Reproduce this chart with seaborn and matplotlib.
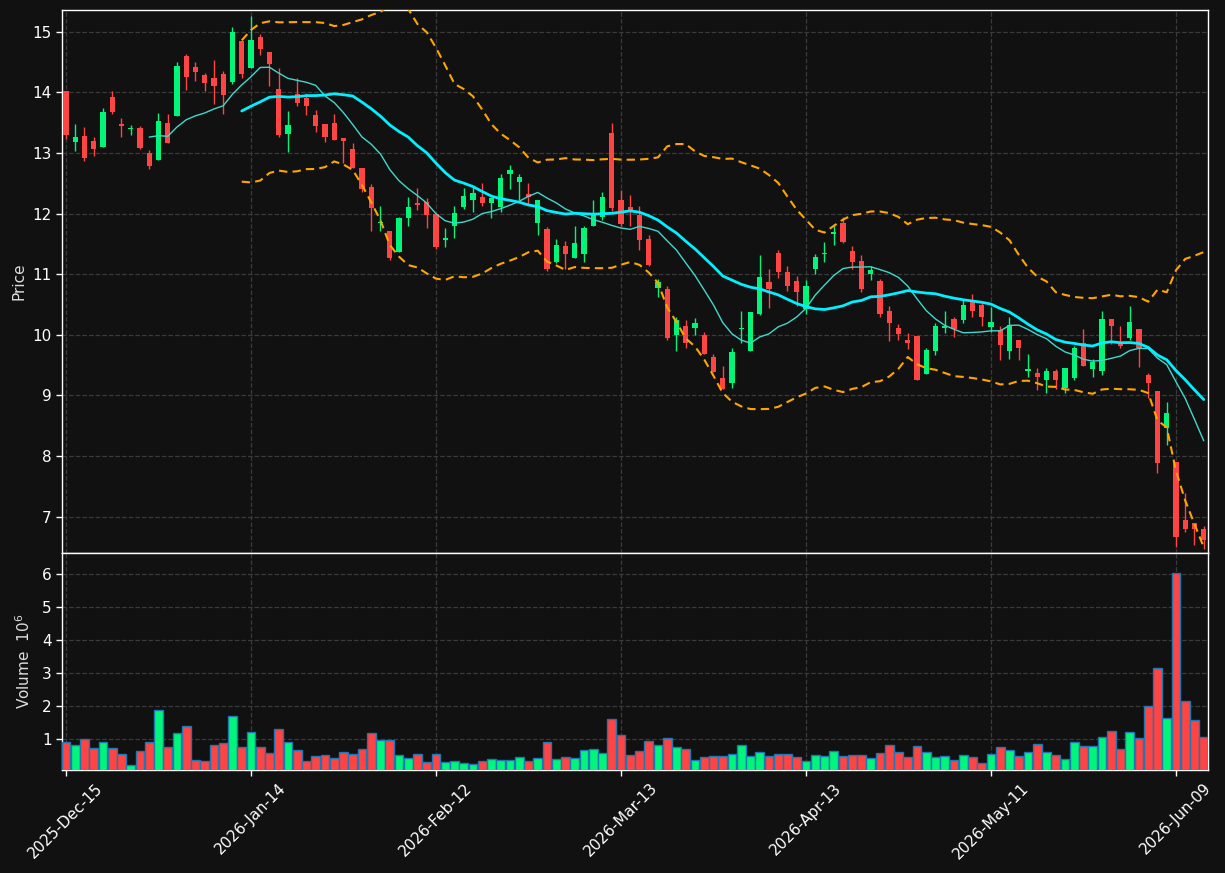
import numpy as np
import pandas as pd
import matplotlib
matplotlib.use("Agg")
import matplotlib.pyplot as plt
import seaborn as sns

# ---------------- data ----------------
opens = [14.02, 13.19, 13.28, 13.20, 13.10, 13.93, 13.48, 13.40, 13.42, 13.00,
         12.89, 13.50, 13.61, 14.60, 14.42, 14.29, 14.24, 14.31, 14.18, 14.85,
         14.41, 14.92, 14.67, 14.06, 13.31, 13.98, 13.91, 13.63, 13.48, 13.50,
         13.25, 13.07, 12.76, 12.44, 11.84, 11.72, 11.37, 11.92, 12.18, 12.19,
         12.00, 11.56, 11.79, 12.11, 12.22, 12.27, 12.18, 12.11, 12.65, 12.53,
         12.33, 11.84, 11.75, 11.20, 11.47, 11.26, 11.33, 11.79, 11.95, 13.33,
         12.23, 12.11, 11.98, 11.58, 10.78, 10.76, 10.00, 10.15, 10.12, 10.00,
         9.63, 9.28, 9.20, 10.09, 9.74, 10.35, 10.87, 11.35, 11.04, 10.89,
         10.43, 11.08, 11.33, 11.67, 11.85, 11.39, 11.22, 11.01, 10.89, 10.40,
         10.12, 9.91, 9.98, 9.35, 9.74, 10.12, 10.26, 10.24, 10.56, 10.50,
         10.13, 10.08, 9.74, 9.92, 9.41, 9.37, 9.25, 9.41, 9.13, 9.29,
         9.86, 9.43, 9.41, 10.26, 9.86, 9.95, 10.09, 9.34, 9.07, 8.47,
         7.90, 6.95, 6.89, 6.80]
highs = [14.02, 13.48, 13.43, 13.26, 13.74, 14.03, 13.58, 13.46, 13.44, 13.05,
         13.66, 13.64, 14.50, 14.64, 14.50, 14.32, 14.54, 14.35, 15.08, 14.85,
         15.26, 14.96, 14.67, 14.40, 13.69, 14.24, 13.99, 13.71, 13.48, 13.64,
         13.25, 13.16, 12.76, 12.49, 12.12, 11.72, 11.95, 12.27, 12.43, 12.25,
         12.00, 11.76, 12.12, 12.42, 12.45, 12.51, 12.26, 12.66, 12.80, 12.66,
         12.51, 12.23, 11.78, 11.58, 11.55, 11.80, 11.80, 12.23, 12.36, 13.50,
         12.39, 12.31, 12.13, 11.65, 10.92, 10.81, 10.29, 10.24, 10.27, 10.04,
         9.69, 9.48, 9.79, 10.40, 10.37, 11.31, 11.09, 11.40, 11.14, 10.97,
         10.91, 11.34, 11.53, 11.82, 11.94, 11.47, 11.32, 11.14, 10.92, 10.48,
         10.18, 10.03, 9.98, 9.78, 10.19, 10.39, 10.30, 10.58, 10.67, 10.53,
         10.46, 10.14, 10.30, 9.92, 9.68, 9.45, 9.45, 9.43, 9.46, 9.82,
         10.09, 9.60, 10.39, 10.26, 10.14, 10.47, 10.09, 9.37, 9.07, 8.89,
         7.90, 7.39, 6.89, 6.84]
lows = [13.23, 13.03, 12.87, 12.95, 13.10, 13.65, 13.26, 13.29, 13.06, 12.74,
        12.89, 13.17, 13.61, 14.04, 14.19, 14.02, 13.81, 13.64, 14.14, 14.24,
        14.41, 14.62, 14.11, 13.26, 13.01, 13.77, 13.63, 13.35, 13.19, 13.21,
        12.83, 12.76, 12.35, 11.71, 11.71, 11.24, 11.37, 11.79, 12.06, 11.76,
        11.42, 11.45, 11.59, 12.08, 12.03, 12.12, 11.92, 12.03, 12.40, 12.22,
        12.16, 11.64, 11.06, 11.18, 11.08, 11.26, 11.21, 11.79, 11.90, 12.05,
        11.80, 11.80, 11.40, 11.14, 10.63, 9.92, 9.74, 9.79, 10.00, 9.69,
        9.38, 9.10, 9.13, 9.87, 9.74, 10.32, 10.45, 10.94, 10.73, 10.47,
        10.34, 11.01, 11.21, 11.49, 11.51, 11.09, 10.71, 10.90, 10.29, 9.90,
        9.91, 9.77, 9.25, 9.35, 9.67, 10.03, 9.96, 10.19, 10.29, 10.14,
        10.05, 9.58, 9.60, 9.58, 9.31, 9.09, 9.04, 9.11, 9.04, 9.26,
        9.49, 9.31, 9.33, 9.85, 9.79, 9.92, 9.47, 8.95, 7.72, 8.18,
        6.50, 6.74, 6.54, 6.47]
closes = [13.30, 13.27, 12.91, 13.06, 13.68, 13.68, 13.44, 13.42, 13.09, 12.78,
          13.53, 13.17, 14.44, 14.26, 14.33, 14.15, 14.10, 13.95, 15.00, 14.31,
          14.87, 14.71, 14.47, 13.29, 13.47, 13.82, 13.78, 13.44, 13.26, 13.21,
          13.20, 12.76, 12.41, 12.10, 11.86, 11.26, 11.93, 12.11, 12.14, 11.97,
          11.45, 11.59, 12.01, 12.29, 12.34, 12.18, 12.26, 12.59, 12.72, 12.61,
          12.27, 12.23, 11.09, 11.49, 11.33, 11.52, 11.77, 11.98, 12.28, 12.10,
          11.83, 12.02, 11.57, 11.15, 10.87, 9.94, 10.24, 9.87, 10.20, 9.69,
          9.38, 9.11, 9.71, 10.12, 10.37, 10.96, 10.75, 11.03, 10.81, 10.71,
          10.81, 11.29, 11.35, 11.70, 11.53, 11.20, 10.76, 11.07, 10.35, 10.20,
          10.02, 9.86, 9.26, 9.75, 10.15, 10.15, 10.10, 10.50, 10.40, 10.29,
          10.21, 9.84, 10.17, 9.79, 9.44, 9.31, 9.41, 9.26, 9.46, 9.79,
          9.49, 9.55, 10.26, 10.15, 9.82, 10.21, 9.79, 9.21, 7.88, 8.71,
          6.67, 6.80, 6.80, 6.62]
volumes = [0.91, 0.82, 1.00, 0.73, 0.91, 0.73, 0.55, 0.21, 0.64, 0.91,
           1.88, 0.76, 1.18, 1.39, 0.36, 0.33, 0.82, 0.88, 1.70, 0.76,
           1.21, 0.76, 0.58, 1.30, 0.91, 0.67, 0.33, 0.48, 0.51, 0.42,
           0.61, 0.55, 0.70, 1.18, 0.97, 0.97, 0.51, 0.42, 0.55, 0.30,
           0.55, 0.30, 0.33, 0.27, 0.24, 0.33, 0.39, 0.36, 0.36, 0.45,
           0.33, 0.42, 0.91, 0.39, 0.45, 0.42, 0.67, 0.70, 0.58, 1.60,
           1.12, 0.51, 0.64, 0.94, 0.82, 1.03, 0.76, 0.70, 0.36, 0.45,
           0.48, 0.48, 0.55, 0.82, 0.48, 0.61, 0.48, 0.55, 0.55, 0.45,
           0.33, 0.51, 0.48, 0.64, 0.48, 0.51, 0.51, 0.42, 0.58, 0.82,
           0.61, 0.45, 0.79, 0.61, 0.45, 0.48, 0.36, 0.51, 0.45, 0.27,
           0.55, 0.76, 0.67, 0.48, 0.61, 0.85, 0.61, 0.51, 0.39, 0.91,
           0.79, 0.79, 1.06, 1.24, 0.70, 1.21, 1.03, 2.00, 3.15, 1.63,
           6.02, 2.15, 1.57, 1.06]  # in 10^6
holidays = ["2025-12-25", "2026-01-01", "2026-01-19", "2026-02-16",
            "2026-04-03", "2026-05-25"]
start_date = "2025-12-15"
tick_every = 20

# ---------------- derived ----------------
n = len(closes)
dates = pd.bdate_range(start=start_date, periods=n, freq="C", holidays=holidays)
df = pd.DataFrame({"idx": np.arange(n), "open": opens, "high": highs,
                   "low": lows, "close": closes, "volume": volumes})
df["ma10"] = df["close"].rolling(10).mean()
df["ma20"] = df["close"].rolling(20).mean()
sd20 = df["close"].rolling(20).std(ddof=0)
df["bbu"] = df["ma20"] + 2 * sd20
df["bbl"] = df["ma20"] - 2 * sd20

BG = "#111111"
UP = "#00f57a"
DOWN = "#ff4444"
GRID = "#3a3a3a"

sns.set_theme(style="dark", rc={
    "axes.facecolor": BG, "figure.facecolor": BG,
    "axes.edgecolor": "white", "axes.labelcolor": "#dddddd",
    "xtick.color": "white", "ytick.color": "white",
    "text.color": "white", "grid.color": GRID,
    "grid.linestyle": "--", "axes.grid": True,
})
plt.rcParams["font.family"] = ["DejaVu Sans"]

W, H = 1225, 873
fig = plt.figure(figsize=(W / 100, H / 100), dpi=100)
left = 62 / W
width = 1146 / W
ax = fig.add_axes([left, 1 - 553 / H, width, (553 - 10) / H])
axv = fig.add_axes([left, 1 - 770 / H, width, (770 - 553) / H], sharex=ax)

up = df["close"] >= df["open"]
cols = np.where(up, UP, DOWN)

# candles
body_lo = np.minimum(df["open"], df["close"])
body_h = np.maximum(np.abs(df["close"] - df["open"]), 0.02)
ax.vlines(df["idx"], df["low"], df["high"], colors=cols, linewidth=1.0, zorder=3)
ax.bar(df["idx"], body_h, bottom=body_lo, width=0.58, color=cols,
       linewidth=0, zorder=4)

# moving averages and bollinger bands
sns.lineplot(data=df, x="idx", y="ma10", ax=ax, color="#40d8cc", linewidth=1.0, zorder=5)
sns.lineplot(data=df, x="idx", y="ma20", ax=ax, color="#00f0ff", linewidth=2.0, zorder=5)
sns.lineplot(data=df, x="idx", y="bbu", ax=ax, color="#ffa500", linewidth=1.5,
             linestyle=(0, (4, 2.5)), zorder=5)
sns.lineplot(data=df, x="idx", y="bbl", ax=ax, color="#ffa500", linewidth=1.5,
             linestyle=(0, (4, 2.5)), zorder=5)

# volume
axv.bar(df["idx"], df["volume"], width=0.95, color=cols, edgecolor="#1f77b4",
        linewidth=1.0, zorder=3)

# axes settings
ax.set_xlim(-0.43, n - 1 + 0.46)
ax.set_ylim(6.40, 15.36)
ax.set_yticks(range(7, 16))
axv.set_ylim(0.3 * min(volumes), 1.1 * max(volumes))
axv.set_yticks(range(1, 7))

ticks = list(range(0, n, tick_every))
axv.set_xticks(ticks)
axv.set_xticklabels([dates[i].strftime("%Y-%b-%d") for i in ticks],
                    rotation=45, ha="center", fontsize=11)
ax.tick_params(axis="x", labelbottom=False, length=0)

for a in (ax, axv):
    a.grid(True, color=GRID, linestyle="--", linewidth=0.9)
    a.tick_params(axis="y", labelsize=11, length=4, width=1, color="white",
                  direction="out", left=True)
    for s in a.spines.values():
        s.set_color("white")
        s.set_linewidth(1.0)
    a.set_axisbelow(True)
axv.tick_params(axis="x", length=4, width=1, color="white", direction="out", bottom=True)

ax.set_xlabel("")
axv.set_xlabel("")
ax.set_ylabel("Price", fontsize=11, color="#dddddd")
axv.set_ylabel("Volume  $10^{6}$", fontsize=11, color="#dddddd")
ax.yaxis.set_label_coords(-0.031, 0.5)
axv.yaxis.set_label_coords(-0.025, 0.5)

fig.savefig("out.png", dpi=100, facecolor=BG)
